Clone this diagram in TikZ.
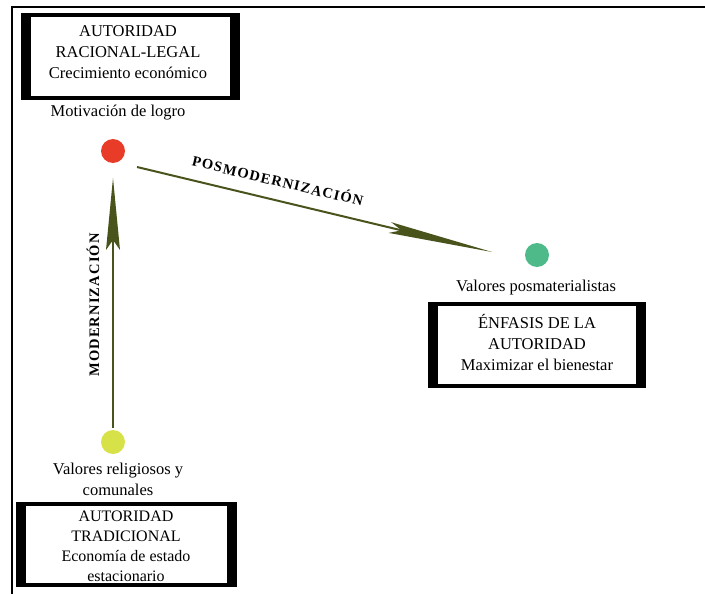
\documentclass[tikz,border=0pt]{standalone}
\usepackage{fontspec}
\setmainfont{Liberation Serif}
\newfontfamily\arrowlabelfont[LetterSpace=8]{Liberation Serif}
\usetikzlibrary{arrows.meta,calc}

\definecolor{shaftgreen}{RGB}{72,84,28}
\definecolor{dotred}{RGB}{232,60,40}
\definecolor{dotgreen}{RGB}{78,186,138}
\definecolor{dotyellow}{RGB}{214,226,72}

\newcommand\diagtext{\fontsize{16.5}{21}\selectfont}
\newcommand\flowtext{\arrowlabelfont\bfseries\fontsize{14.5}{16}\selectfont}

\begin{document}
\begin{tikzpicture}[x=1pt,y=-1pt,
  authbox/.style={draw, line width=4pt, inner sep=0pt, outer sep=0pt},
  boxtext/.style={align=center, font=\diagtext, inner sep=0pt},
  caption/.style={align=center, font=\diagtext, inner sep=0pt},
  stage/.style={circle, minimum size=24pt, inner sep=0pt},
  flowlabel/.style={font=\flowtext, inner sep=0pt},
  shaft/.style={draw=shaftgreen, line width=2pt}]

\useasboundingbox (0,0) rectangle (705,594);

% frame lines
\draw[line width=2pt] (705,7) -- (12,7) -- (12,594);

% authority boxes
\node[authbox, minimum width=215pt, minimum height=83pt] (tbox) at (130.5,56.5) {};
\node[authbox, minimum width=214pt, minimum height=82pt] (rbox) at (537,345) {};
\node[authbox, minimum width=217pt, minimum height=81pt] (bbox) at (126.5,544.5) {};

% heavy side bars of the boxes
\foreach \b in {tbox,rbox,bbox}{
  \fill ($(\b.north west)+(-2,-2)$) rectangle ($(\b.south west)+(8,2)$);
  \fill ($(\b.north east)+(2,-2)$) rectangle ($(\b.south east)+(-8,2)$);
}

% box contents
\node[boxtext] (ttext) at (128,52) {AUTORIDAD\\RACIONAL-LEGAL\\Crecimiento económico};
\node[boxtext] (rtext) at (537,342) {ÉNFASIS DE LA\\AUTORIDAD\\Maximizar el bienestar};
\node[boxtext, font=\fontsize{16}{20}\selectfont] (btext) at (126,546.5)
  {AUTORIDAD\\TRADICIONAL\\Economía de estado\\estacionario};

% value captions
\node[caption] (tcap) at (118,113) {Motivación de logro};
\node[caption] (rcap) at (536,288) {Valores posmaterialistas};
\node[caption] (bcap) at (118,479) {Valores religiosos y\\comunales};

% stage dots
\node[stage, fill=dotred] (rdot) at (113,151) {};
\node[stage, fill=dotgreen] (gdot) at (537,255) {};
\node[stage, fill=dotyellow] (ydot) at (113,442) {};

% transitions
\draw[shaft, -{Stealth[length=72pt, width=14pt, inset=10pt, line width=0pt]}]
  ([shift={(0,-14)}]ydot.center) -- ([shift={(0,27)}]rdot.center);
\draw[shaft, -{Stealth[length=105pt, width=11pt, inset=12pt, line width=0pt]}]
  ([shift={(24,16)}]rdot.center) -- ([shift={(-45,-3)}]gdot.center);

\node[flowlabel, rotate=90] (modlab) at (93,305) {MODERNIZACIÓN};
\node[flowlabel, rotate=-13.4] (poslab) at (278,180) {POSMODERNIZACIÓN};

\end{tikzpicture}
\end{document}
